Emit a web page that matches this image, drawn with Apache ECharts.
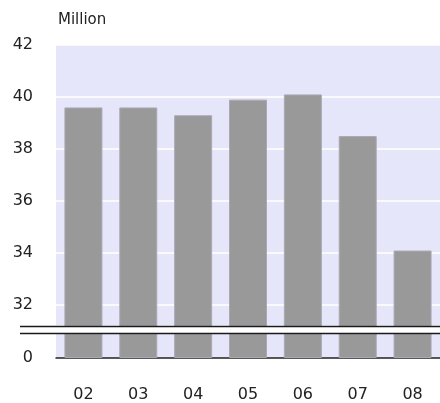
<!DOCTYPE html>
<html>
<head>
<meta charset="utf-8">
<script src="https://cdn.jsdelivr.net/npm/echarts@6/dist/echarts.min.js"></script>
<style>
  html, body { margin: 0; padding: 0; background: #ffffff; }
  #chart { width: 440px; height: 403px; }
</style>
</head>
<body>
<div id="chart"></div>
<script>
// Annual totals, in millions
const years = ['02', '03', '04', '05', '06', '07', '08'];
const totals = [39.6, 39.6, 39.3, 39.9, 40.1, 38.5, 34.1];
const unitLabel = 'Million';

// Value axis is broken: the upper panel shows 31.2–42, the lower one 0–1
const upperMin = 31.2;
const upperMax = 42;
const lowerMin = 0;
const lowerMax = 1;

// Panel geometry (pixels)
const plotLeft = 56;
const plotWidth = 385;
const upperTop = 45;
const upperHeight = 281;
const lowerTop = 334;
const lowerHeight = 26;

const font = 'DejaVu Sans, Verdana, sans-serif';
const labelColor = '#222222';
const plotBg = '#e6e6fa';
const barColor = '#999999';

const chart = echarts.init(document.getElementById('chart'), null, { renderer: 'canvas' });

const barStyle = { color: barColor, borderColor: '#a9a9b6', borderWidth: 1 };

const yLabel = { color: labelColor, fontFamily: font, fontSize: 16, margin: 23,
                 padding: [0, 0, 4, 0] };

const option = {
  animation: false,
  backgroundColor: '#ffffff',
  grid: [
    { left: plotLeft, top: upperTop, width: plotWidth, height: upperHeight,
      show: true, backgroundColor: plotBg, borderWidth: 0 },
    { left: plotLeft, top: lowerTop, width: plotWidth, height: lowerHeight,
      show: true, backgroundColor: plotBg, borderWidth: 0 }
  ],
  xAxis: [
    { type: 'category', gridIndex: 0, data: years, show: false },
    { type: 'category', gridIndex: 1, data: years,
      axisLine: { show: true, lineStyle: { color: labelColor, width: 1.5 } },
      axisTick: { show: false },
      axisLabel: { color: labelColor, fontFamily: font, fontSize: 16, margin: 29 } }
  ],
  yAxis: [
    { type: 'value', gridIndex: 0, min: upperMin, max: upperMax,
      minInterval: 2, maxInterval: 2,
      axisLine: { show: false }, axisTick: { show: false },
      axisLabel: Object.assign({ showMinLabel: false }, yLabel),
      splitLine: { show: true, lineStyle: { color: '#ffffff', width: 1.5 } } },
    { type: 'value', gridIndex: 1, min: lowerMin, max: lowerMax,
      axisLine: { show: false }, axisTick: { show: false },
      axisLabel: Object.assign({ formatter: v => (v === 0 ? '0' : '') }, yLabel),
      splitLine: { show: false } }
  ],
  series: [
    { type: 'bar', xAxisIndex: 0, yAxisIndex: 0, data: totals, barWidth: 38,
      itemStyle: barStyle, clip: true, silent: true },
    { type: 'bar', xAxisIndex: 1, yAxisIndex: 1, data: totals, barWidth: 38,
      itemStyle: barStyle, clip: true, silent: true }
  ],
  graphic: [
    // unit caption above the value axis
    { type: 'text', left: 58, top: 13,
      style: { text: unitLabel, fill: labelColor, font: '15px ' + font } },
    // double line marking the axis break
    { type: 'line', shape: { x1: 20, y1: upperTop + upperHeight + 0.5, x2: 440, y2: upperTop + upperHeight + 0.5 },
      style: { stroke: '#1a1a1a', lineWidth: 1.5 }, z: 100 },
    { type: 'line', shape: { x1: 20, y1: lowerTop - 0.5, x2: 440, y2: lowerTop - 0.5 },
      style: { stroke: '#1a1a1a', lineWidth: 1.5 }, z: 100 }
  ]
};

chart.setOption(option);
</script>
</body>
</html>
